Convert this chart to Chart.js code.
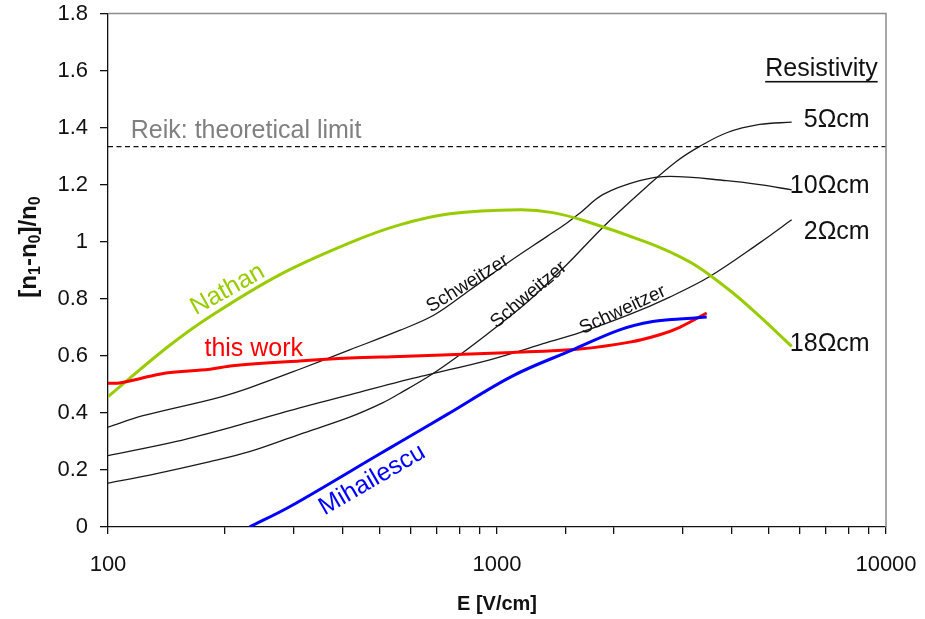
<!DOCTYPE html>
<html><head><meta charset="utf-8">
<script src="https://cdn.jsdelivr.net/npm/chart.js@4/dist/chart.umd.min.js"></script>
<style>html,body{margin:0;padding:0;background:#fff;}canvas{display:block;}</style>
</head><body>
<canvas id="c" width="925" height="619"></canvas>
<script>
const FONT = '"Liberation Sans", Arial, Helvetica, sans-serif';

// Axis ticks
const xTickValues = [100, 1000, 10000];
const xTickLabels = ['100', '1000', '10000'];
const yTickLabels = ['0', '0.2', '0.4', '0.6', '0.8', '1', '1.2', '1.4', '1.6', '1.8'];

// Reik theoretical limit
const reikE = [100, 10000];
const reikV = [1.333, 1.333];

// Schweitzer 10 Ohm cm
const s10E = [100, 123, 190, 231, 311, 418, 562, 691, 850, 1075, 1342, 1510, 1632, 1870, 2327, 2780, 3895, 4735, 5722];
const s10V = [0.35, 0.39, 0.452, 0.488, 0.553, 0.621, 0.689, 0.744, 0.83, 0.93, 1.018, 1.065, 1.10, 1.165, 1.214, 1.229, 1.214, 1.2, 1.182];

// Schweitzer 5 Ohm cm
const s5E = [100, 128, 183, 231, 311, 418, 508, 562, 671, 816, 998, 1213, 1510, 1762, 1983, 2425, 2897, 3320, 3895, 4735, 5722];
const s5V = [0.154, 0.182, 0.229, 0.264, 0.325, 0.385, 0.435, 0.468, 0.53, 0.611, 0.702, 0.796, 0.919, 1.014, 1.084, 1.193, 1.282, 1.334, 1.382, 1.411, 1.419];

// Schweitzer 2 Ohm cm
const s2E = [100, 150, 218, 311, 418, 562, 671, 958, 1342, 1632, 2194, 2780, 3523, 4735, 5722];
const s2V = [0.25, 0.30, 0.358, 0.418, 0.463, 0.51, 0.535, 0.586, 0.646, 0.681, 0.745, 0.806, 0.878, 0.996, 1.077];

// Nathan (18 Ohm cm)
const nathanE = [100, 142, 183, 276, 418, 562, 756, 1144, 1391, 1701, 2450, 2949, 3320, 4036, 4735, 5722];
const nathanV = [0.457, 0.63, 0.738, 0.884, 0.996, 1.059, 1.098, 1.112, 1.102, 1.071, 0.996, 0.948, 0.908, 0.821, 0.738, 0.633];

// this work
const workE = [100, 107, 130, 141, 183, 209, 311, 418, 562, 1098, 1632, 2194, 2620, 2949, 3460];
const workV = [0.504, 0.505, 0.53, 0.54, 0.553, 0.565, 0.582, 0.592, 0.598, 0.612, 0.624, 0.648, 0.674, 0.70, 0.75];

// Mihailescu
const mihE = [231, 293, 499, 562, 743, 1098, 1565, 2067, 2514, 2949, 3460];
const mihV = [0, 0.071, 0.256, 0.297, 0.394, 0.53, 0.621, 0.691, 0.72, 0.729, 0.736];

const pts = (xs, ys) => xs.map((x, i) => ({x: x, y: ys[i]}));

// Text annotations placed in data coordinates
const notes = [
  {text: 'Reik: theoretical limit', e: 114.4, v: 1.386, color: '#808080', size: 25, angle: 0, align: 'left'},
  {text: 'Resistivity', e: 9521, v: 1.604, color: '#111', size: 25, angle: 0, align: 'right', underline: true},
  {text: '5\u03A9cm', e: 9078, v: 1.428, color: '#111', size: 25, angle: 0, align: 'right'},
  {text: '10\u03A9cm', e: 9078, v: 1.196, color: '#111', size: 25, angle: 0, align: 'right'},
  {text: '2\u03A9cm', e: 9078, v: 1.035, color: '#111', size: 25, angle: 0, align: 'right'},
  {text: '18\u03A9cm', e: 9078, v: 0.642, color: '#111', size: 25, angle: 0, align: 'right'},
  {text: 'Nathan', e: 203, v: 0.832, color: '#99cc00', size: 25, angle: -29, align: 'center'},
  {text: 'this work', e: 237, v: 0.625, color: '#ff0000', size: 25, angle: 0, align: 'center'},
  {text: 'Mihailescu', e: 478, v: 0.165, color: '#0000ff', size: 25, angle: -30, align: 'center'},
  {text: 'Schweitzer', e: 841, v: 0.853, color: '#111', size: 19, angle: -32, align: 'center'},
  {text: 'Schweitzer', e: 1206, v: 0.814, color: '#111', size: 19, angle: -40, align: 'center'},
  {text: 'Schweitzer', e: 2104, v: 0.761, color: '#111', size: 19, angle: -25, align: 'center'}
];

const annotate = {
  id: 'annotate',
  afterDatasetsDraw(chart) {
    const ctx = chart.ctx, a = chart.chartArea, xs = chart.scales.x, ys = chart.scales.y;
    ctx.save();
    // gray frame top & right
    ctx.strokeStyle = '#8c8c8c';
    ctx.lineWidth = 1.5;
    ctx.beginPath();
    ctx.moveTo(a.left, a.top);
    ctx.lineTo(a.right, a.top);
    ctx.lineTo(a.right, a.bottom);
    ctx.stroke();
    for (const n of notes) {
      ctx.save();
      ctx.translate(xs.getPixelForValue(n.e), ys.getPixelForValue(n.v));
      ctx.rotate(n.angle * Math.PI / 180);
      ctx.font = n.size + 'px ' + FONT;
      ctx.fillStyle = n.color;
      ctx.textAlign = n.align;
      ctx.textBaseline = 'middle';
      ctx.fillText(n.text, 0, 0);
      if (n.underline) {
        const w = ctx.measureText(n.text).width;
        const x0 = n.align === 'right' ? -w : (n.align === 'left' ? 0 : -w / 2);
        ctx.fillRect(x0, n.size * 0.46, w, 1.6);
      }
      ctx.restore();
    }
    // x axis title
    ctx.fillStyle = '#111';
    ctx.font = 'bold 20px ' + FONT;
    ctx.textAlign = 'center';
    ctx.textBaseline = 'middle';
    ctx.fillText('E [V/cm]', (a.left + a.right) / 2, 604);
    // y axis title with subscripts
    const parts = [['[n', 0], ['1', 1], ['-n', 0], ['0', 1], [']/n', 0], ['0', 1]];
    const big = 'bold 24px ' + FONT, small = 'bold 16px ' + FONT;
    let total = 0;
    for (const p of parts) { ctx.font = p[1] ? small : big; total += ctx.measureText(p[0]).width; }
    ctx.save();
    ctx.translate(28, 247);
    ctx.rotate(-Math.PI / 2);
    ctx.textAlign = 'left';
    ctx.textBaseline = 'alphabetic';
    let cx = -total / 2;
    for (const p of parts) {
      ctx.font = p[1] ? small : big;
      ctx.fillText(p[0], cx, p[1] ? 12 : 8);
      cx += ctx.measureText(p[0]).width;
    }
    ctx.restore();
    ctx.restore();
  }
};

Chart.defaults.font.family = FONT;

const thin = {borderColor: '#1a1a1a', borderWidth: 1.3, pointRadius: 0, fill: false, tension: 0.35};
const thick = {borderWidth: 3, pointRadius: 0, fill: false, tension: 0.35};

new Chart(document.getElementById('c'), {
  type: 'line',
  data: {
    datasets: [
      Object.assign({label: 'Mihailescu', data: pts(mihE, mihV), borderColor: '#0000ff'}, thick),
      Object.assign({label: 'this work', data: pts(workE, workV), borderColor: '#ff0000'}, thick),
      Object.assign({label: 'Nathan', data: pts(nathanE, nathanV), borderColor: '#99cc00'}, thick),
      Object.assign({label: 'Schweitzer 2', data: pts(s2E, s2V)}, thin),
      Object.assign({label: 'Schweitzer 5', data: pts(s5E, s5V)}, thin),
      Object.assign({label: 'Schweitzer 10', data: pts(s10E, s10V)}, thin),
      {label: 'Reik', data: pts(reikE, reikV), borderColor: '#111', borderWidth: 1.2, borderDash: [5, 3.5], pointRadius: 0, fill: false, tension: 0}
    ]
  },
  options: {
    responsive: false,
    animation: false,
    devicePixelRatio: 1,
    layout: {padding: {top: 13.5, right: 39, left: 0, bottom: 0}},
    plugins: {legend: {display: false}, tooltip: {enabled: false}},
    scales: {
      x: {
        type: 'logarithmic', min: 100, max: 10000,
        afterFit(s) { s.height = 92; s.paddingLeft = 0; s.paddingRight = 0; },
        grid: {drawOnChartArea: false, drawTicks: true, tickLength: 7, color: '#111', lineWidth: 1.3},
        border: {display: true, color: '#111', width: 1.3},
        ticks: {
          autoSkip: false, maxRotation: 0, padding: 18, color: '#111', font: {size: 22},
          callback(v) {
            const i = xTickValues.findIndex(t => Math.abs(t - v) < 1e-6 * t);
            return i >= 0 ? xTickLabels[i] : '';
          }
        }
      },
      y: {
        type: 'linear', min: 0, max: 1.8,
        afterFit(s) { s.width = 108; s.paddingTop = 0; s.paddingBottom = 0; },
        grid: {drawOnChartArea: false, drawTicks: true, tickLength: 8, color: '#111', lineWidth: 1.3},
        border: {display: true, color: '#111', width: 1.3},
        ticks: {
          stepSize: 0.2, padding: 12, color: '#111', font: {size: 22},
          callback(v, i) { return yTickLabels[i]; }
        }
      }
    }
  },
  plugins: [annotate]
});
</script>
</body></html>
